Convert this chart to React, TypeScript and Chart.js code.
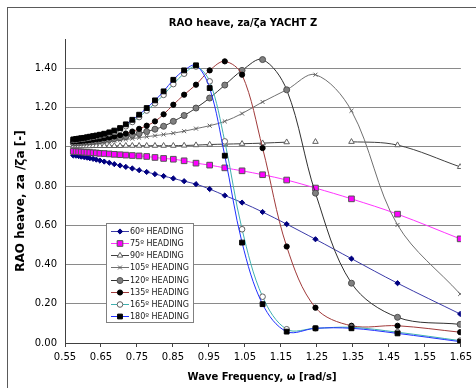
import React, { useEffect, useRef } from "react";
import { Chart, registerables } from "chart.js";

Chart.register(...registerables);

// Wave frequencies ω [rad/s] at which the heave RAO was computed
const frequencies = [
  0.573, 0.581, 0.588, 0.595, 0.603, 0.611, 0.619, 0.628, 0.637, 0.647,
  0.659, 0.673, 0.687, 0.703, 0.719, 0.737, 0.756, 0.777, 0.8, 0.824,
  0.851, 0.881, 0.914, 0.952, 0.994, 1.042, 1.099, 1.166, 1.246, 1.346,
  1.474, 1.648,
];

// Heave RAO za/ζa per heading
const heading60 = [
  0.956, 0.955, 0.953, 0.95, 0.948, 0.945, 0.942, 0.939, 0.935, 0.93,
  0.925, 0.919, 0.912, 0.905, 0.898, 0.89, 0.881, 0.872, 0.861, 0.851,
  0.839, 0.825, 0.81, 0.785, 0.752, 0.716, 0.668, 0.606, 0.529, 0.43,
  0.305, 0.148,
];
const heading75 = [
  0.977, 0.976, 0.975, 0.974, 0.973, 0.972, 0.971, 0.97, 0.969, 0.967,
  0.966, 0.964, 0.962, 0.96, 0.958, 0.956, 0.954, 0.951, 0.946, 0.941,
  0.937, 0.929, 0.917, 0.907, 0.893, 0.878, 0.858, 0.831, 0.79, 0.735,
  0.657, 0.531,
];
const heading90 = [
  1.004, 1.004, 1.004, 1.004, 1.004, 1.004, 1.004, 1.005, 1.005, 1.005,
  1.005, 1.005, 1.005, 1.005, 1.006, 1.006, 1.006, 1.006, 1.006, 1.006,
  1.006, 1.007, 1.009, 1.012, 1.014, 1.016, 1.019, 1.024, 1.026, 1.026,
  1.009, 0.898,
];
const heading105 = [
  1.012, 1.013, 1.014, 1.015, 1.016, 1.017, 1.018, 1.02, 1.021, 1.023,
  1.025, 1.028, 1.031, 1.034, 1.038, 1.042, 1.047, 1.052, 1.057, 1.063,
  1.07, 1.08, 1.093, 1.108, 1.13, 1.17, 1.229, 1.291, 1.368, 1.184,
  0.602, 0.25,
];
const heading120 = [
  1.02, 1.021, 1.022, 1.023, 1.024, 1.025, 1.026, 1.028, 1.03, 1.032,
  1.035, 1.038, 1.042, 1.047, 1.053, 1.06, 1.068, 1.078, 1.09, 1.105,
  1.13, 1.16, 1.198, 1.249, 1.315, 1.39, 1.445, 1.291, 0.764, 0.305,
  0.131, 0.095,
];
const heading135 = [
  1.028, 1.029, 1.03, 1.031, 1.032, 1.033, 1.035, 1.037, 1.039, 1.041,
  1.044, 1.048, 1.053, 1.06, 1.068, 1.078, 1.092, 1.108, 1.13, 1.166,
  1.215, 1.266, 1.317, 1.39, 1.436, 1.368, 0.994, 0.492, 0.18, 0.088,
  0.088, 0.055,
];
const heading165 = [
  1.035, 1.037, 1.039, 1.041, 1.043, 1.045, 1.048, 1.051, 1.054, 1.058,
  1.063, 1.069, 1.077, 1.088, 1.105, 1.127, 1.152, 1.185, 1.222, 1.265,
  1.32, 1.373, 1.41, 1.334, 1.028, 0.58, 0.236, 0.07, 0.075, 0.08,
  0.055, 0.012,
];
const heading180 = [
  1.038, 1.04, 1.042, 1.044, 1.046, 1.049, 1.052, 1.055, 1.058, 1.062,
  1.067, 1.074, 1.083, 1.096, 1.115, 1.138, 1.164, 1.198, 1.237, 1.283,
  1.342, 1.39, 1.416, 1.3, 0.955, 0.512, 0.198, 0.058, 0.075, 0.075,
  0.049, 0.007,
];

const seriesLabels = [
  "60º HEADING",
  "75º HEADING",
  "90º HEADING",
  "105º HEADING",
  "120º HEADING",
  "135º HEADING",
  "165º HEADING",
  "180º HEADING",
];
const seriesValues = [
  heading60,
  heading75,
  heading90,
  heading105,
  heading120,
  heading135,
  heading165,
  heading180,
];

const xMin = 0.55;
const xMax = 1.65;
const xStep = 0.1;
const yMin = 0;
const yMax = 1.55;
const yStep = 0.2;

const chartTitle = "RAO heave, za/ζa YACHT Z";
const xTitle = "Wave Frequency, ω [rad/s]";
const yTitle = "RAO heave, za /ζa [-]";

const FONT = '"DejaVu Sans", Verdana, sans-serif';

type Look = {
  line: string;
  fill: string;
  edge: string;
  shape: string;
  radius: number;
};

const looks: Look[] = [
  { line: "#3a3aa8", fill: "#000080", edge: "#000080", shape: "rectRot", radius: 2.6 },
  { line: "#ff33ff", fill: "#ff00ff", edge: "#555555", shape: "rect", radius: 4 },
  { line: "#404040", fill: "#ffffff", edge: "#606060", shape: "triangle", radius: 3.2 },
  { line: "#707070", fill: "#707070", edge: "#606060", shape: "crossRot", radius: 2.8 },
  { line: "#303030", fill: "#808080", edge: "#505050", shape: "circle", radius: 3 },
  { line: "#a03a3a", fill: "#000000", edge: "#000000", shape: "circle", radius: 2.6 },
  { line: "#3fb0b0", fill: "#ffffff", edge: "#606060", shape: "circle", radius: 2.8 },
  { line: "#2030ff", fill: "#000000", edge: "#000000", shape: "rect", radius: 3.4 },
];

function drawMarker(
  ctx: CanvasRenderingContext2D,
  shape: string,
  x: number,
  y: number,
  r: number,
  fill: string,
  edge: string
) {
  ctx.save();
  ctx.beginPath();
  if (shape === "rect") {
    const s = r * Math.SQRT1_2;
    ctx.rect(x - s, y - s, 2 * s, 2 * s);
  } else if (shape === "rectRot") {
    ctx.moveTo(x - r, y);
    ctx.lineTo(x, y - r);
    ctx.lineTo(x + r, y);
    ctx.lineTo(x, y + r);
    ctx.closePath();
  } else if (shape === "triangle") {
    ctx.moveTo(x, y - r);
    ctx.lineTo(x + r * 0.87, y + r * 0.5);
    ctx.lineTo(x - r * 0.87, y + r * 0.5);
    ctx.closePath();
  } else if (shape === "crossRot") {
    const s = r * 0.7;
    ctx.moveTo(x - s, y - s);
    ctx.lineTo(x + s, y + s);
    ctx.moveTo(x + s, y - s);
    ctx.lineTo(x - s, y + s);
  } else {
    ctx.arc(x, y, r, 0, Math.PI * 2);
  }
  if (shape !== "crossRot") {
    ctx.fillStyle = fill;
    ctx.fill();
  }
  ctx.strokeStyle = edge;
  ctx.lineWidth = 1;
  ctx.stroke();
  ctx.restore();
}

// Frame, titles and the boxed legend inside the plot
const decorPlugin = {
  id: "decor",
  beforeDraw(chart: any) {
    const ctx = chart.ctx as CanvasRenderingContext2D;
    ctx.save();
    ctx.fillStyle = "#ffffff";
    ctx.fillRect(0, 0, chart.width, chart.height);
    ctx.restore();
  },
  afterDraw(chart: any) {
    const ctx = chart.ctx as CanvasRenderingContext2D;
    ctx.save();
    ctx.strokeStyle = "#5a5a5a";
    ctx.lineWidth = 1;
    ctx.strokeRect(7.5, 7.5, chart.width + 10, chart.height + 10);

    ctx.fillStyle = "#000000";
    ctx.textAlign = "center";
    ctx.textBaseline = "middle";
    ctx.font = `bold 10px ${FONT}`;
    ctx.fillText(chartTitle, 243, 23);
    ctx.fillText(xTitle, 262, 377);
    ctx.save();
    ctx.translate(20.5, 201);
    ctx.rotate(-Math.PI / 2);
    ctx.font = `bold 12px ${FONT}`;
    ctx.fillText(yTitle, 0, 0);
    ctx.restore();

    // legend box
    const bx = 106.5;
    const by = 223.5;
    const bw = 87;
    const bh = 99;
    ctx.fillStyle = "#ffffff";
    ctx.fillRect(bx, by, bw, bh);
    ctx.strokeStyle = "#808080";
    ctx.strokeRect(bx, by, bw, bh);
    ctx.font = `8px ${FONT}`;
    ctx.textAlign = "left";
    seriesLabels.forEach((label, i) => {
      const look = looks[i];
      const y = Math.round(230.7 + i * 12.2) + 0.5;
      ctx.strokeStyle = look.line;
      ctx.lineWidth = 1;
      ctx.beginPath();
      ctx.moveTo(111, y);
      ctx.lineTo(129, y);
      ctx.stroke();
      drawMarker(ctx, look.shape, 120, y, look.radius, look.fill, look.edge);
      ctx.fillStyle = "#202020";
      ctx.fillText(label, 130, y + 0.5);
    });
    ctx.restore();
  },
};

export default function App() {
  const canvasRef = useRef<HTMLCanvasElement | null>(null);

  useEffect(() => {
    const canvas = canvasRef.current;
    if (!canvas) return;

    const datasets = seriesLabels.map((label, i) => {
      const look = looks[i];
      return {
        label,
        data: frequencies.map((x, k) => ({ x, y: seriesValues[i][k] })),
        borderColor: look.line,
        borderWidth: 1,
        backgroundColor: look.fill,
        pointBackgroundColor: look.fill,
        pointBorderColor: look.edge,
        pointBorderWidth: 1,
        pointStyle: look.shape,
        pointRadius: look.radius,
        showLine: true,
        tension: 0.35,
        order: seriesLabels.length - i,
        segment:
          i === 2
            ? {
                borderColor: (c: any) =>
                  c.p0DataIndex >= 27 && c.p0DataIndex <= 28 ? "rgba(0,0,0,0)" : undefined,
              }
            : undefined,
      };
    });

    const chart = new Chart(canvas, {
      type: "scatter",
      data: { datasets },
      options: {
        responsive: false,
        animation: false,
        devicePixelRatio: 1,
        layout: { padding: { top: 39, right: 15, left: 0, bottom: 0 } },
        plugins: {
          legend: { display: false },
          tooltip: { enabled: false },
          title: { display: false },
        },
        scales: {
          x: {
            type: "linear",
            min: xMin,
            max: xMax,
            afterFit: (s: any) => {
              s.height = 45;
            },
            ticks: {
              stepSize: xStep,
              padding: 4,
              color: "#000000",
              font: { family: FONT, size: 10 },
              maxRotation: 0,
              autoSkip: false,
              callback: (v: any) => Number(v).toFixed(2),
            },
            grid: {
              drawOnChartArea: false,
              drawTicks: true,
              tickLength: 4,
              tickColor: "#404040",
            },
            border: { display: true, color: "#404040", width: 1 },
          },
          y: {
            type: "linear",
            min: yMin,
            max: yMax,
            afterFit: (s: any) => {
              s.width = 65;
            },
            ticks: {
              stepSize: yStep,
              includeBounds: false,
              padding: 8,
              color: "#000000",
              font: { family: FONT, size: 10 },
              callback: (v: any) => Number(v).toFixed(2),
            },
            grid: {
              color: "#8a8a8a",
              drawTicks: false,
              lineWidth: 1,
            },
            border: { display: true, color: "#404040", width: 1 },
          },
        },
      },
      plugins: [decorPlugin],
    });

    return () => chart.destroy();
  }, []);

  return (
    <div style={{ position: "fixed", left: 0, top: 0, width: 476, height: 388, background: "#fff" }}>
      <canvas ref={canvasRef} width={476} height={388} style={{ width: 476, height: 388, display: "block" }} />
    </div>
  );
}
